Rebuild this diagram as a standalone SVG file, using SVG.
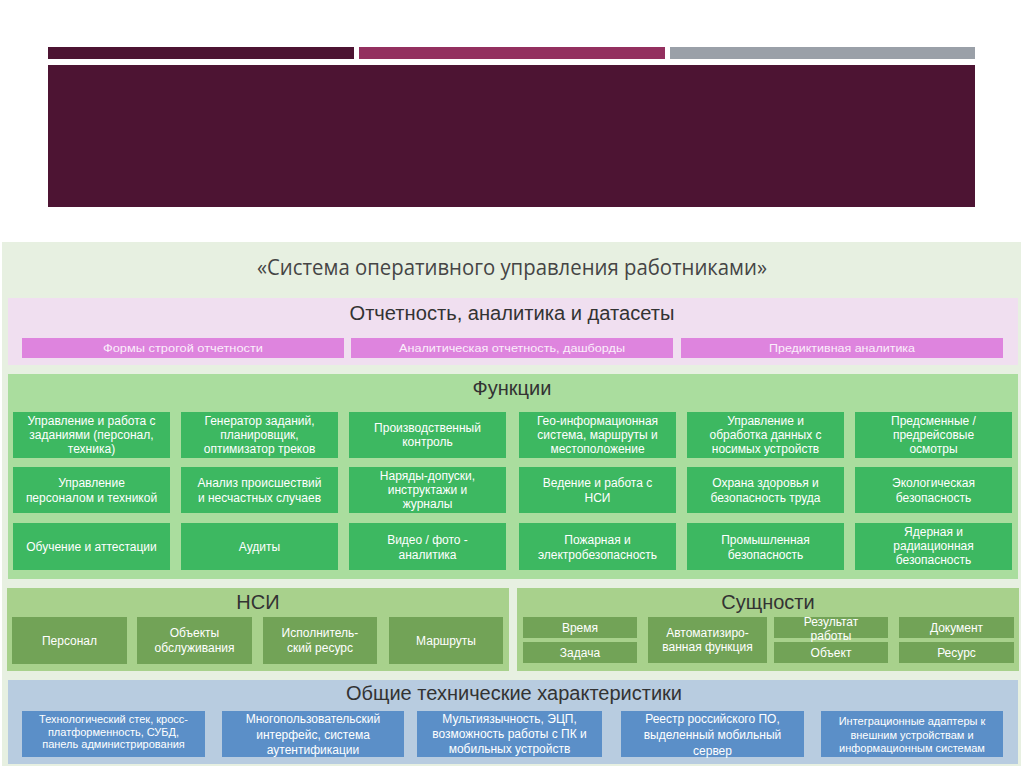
<svg xmlns="http://www.w3.org/2000/svg" width="1024" height="767" viewBox="0 0 1024 767">
<style>
.t{font-family:"Liberation Sans",Arial,sans-serif;text-anchor:middle;dominant-baseline:central}
.ttl{font-family:"Open Sans","Liberation Sans",sans-serif;fill:#454545;font-size:21px}
.bx{fill:#fff;font-size:12px}
.sm{fill:#fbeefb;font-size:11.5px}
.bl{fill:#fff;font-size:11px}
.hd{fill:#333;font-size:20px}
.fn{fill:#3db861}
.pk{fill:#de84de}
.ns{fill:#72a357}
.bu{fill:#5b8fc8}
</style>
<rect x="0" y="0" width="1024" height="767" fill="#fff"/>
<g id="header">
<rect x="48" y="47" width="306" height="12" fill="#4d1432"/>
<rect x="359" y="47" width="306" height="12" fill="#93305f"/>
<rect x="670" y="47" width="305" height="12" fill="#9aa0a8"/>
<rect x="48" y="65" width="927" height="142" fill="#4d1433"/>
</g>
<g id="panel">
<rect x="2" y="242" width="1019" height="524" fill="#e7f0e1"/>
<text class="t ttl" x="512" y="267" textLength="510" lengthAdjust="spacingAndGlyphs">«Система оперативного управления работниками»</text>
</g>
<g id="reporting">
<rect x="8" y="298" width="1010" height="67" fill="#f0dff0"/>
<text class="t hd" x="512" y="313" font-size="19" textLength="325" lengthAdjust="spacingAndGlyphs">Отчетность,  аналитика  и датасеты</text>
<g id="rep1"><rect class="pk" x="22" y="338" width="322" height="20"/><text class="t sm" x="183" y="348" textLength="160" lengthAdjust="spacingAndGlyphs">Формы строгой отчетности</text></g>
<g id="rep2"><rect class="pk" x="351" y="338" width="322" height="20"/><text class="t sm" x="512" y="348" textLength="226" lengthAdjust="spacingAndGlyphs">Аналитическая отчетность, дашборды</text></g>
<g id="rep3"><rect class="pk" x="681" y="338" width="322" height="20"/><text class="t sm" x="842" y="348" textLength="146" lengthAdjust="spacingAndGlyphs">Предиктивная аналитика</text></g>
</g>
<g id="functions">
<rect x="8" y="374" width="1010" height="205" fill="#aadd9e"/>
<text class="t hd" x="512" y="388" font-size="19">Функции</text>
<g id="f11"><rect class="fn" x="13" y="412" width="157" height="46"/><text class="t bx" x="91.5" y="421"><tspan x="91.5">Управление  и работа с</tspan><tspan x="91.5" dy="14">заданиями  (персонал,</tspan><tspan x="91.5" dy="14">техника)</tspan></text></g>
<g id="f12"><rect class="fn" x="181" y="412" width="157" height="46"/><text class="t bx" x="259.5" y="421"><tspan x="259.5">Генератор заданий,</tspan><tspan x="259.5" dy="14">планировщик,</tspan><tspan x="259.5" dy="14">оптимизатор треков</tspan></text></g>
<g id="f13"><rect class="fn" x="349" y="412" width="157" height="46"/><text class="t bx" x="427.5" y="428"><tspan x="427.5">Производственный</tspan><tspan x="427.5" dy="14">контроль</tspan></text></g>
<g id="f14"><rect class="fn" x="519" y="412" width="157" height="46"/><text class="t bx" x="597.5" y="421"><tspan x="597.5">Гео-информационная</tspan><tspan x="597.5" dy="14">система, маршруты и</tspan><tspan x="597.5" dy="14">местоположение</tspan></text></g>
<g id="f15"><rect class="fn" x="687" y="412" width="157" height="46"/><text class="t bx" x="765.5" y="421"><tspan x="765.5">Управление  и</tspan><tspan x="765.5" dy="14">обработка данных с</tspan><tspan x="765.5" dy="14">носимых  устройств</tspan></text></g>
<g id="f16"><rect class="fn" x="855" y="412" width="157" height="46"/><text class="t bx" x="933.5" y="421"><tspan x="933.5">Предсменные /</tspan><tspan x="933.5" dy="14">предрейсовые</tspan><tspan x="933.5" dy="14">осмотры</tspan></text></g>
<g id="f21"><rect class="fn" x="13" y="467" width="157" height="46"/><text class="t bx" x="91.5" y="483"><tspan x="91.5">Управление</tspan><tspan x="91.5" dy="15">персоналом  и техникой</tspan></text></g>
<g id="f22"><rect class="fn" x="181" y="467" width="157" height="46"/><text class="t bx" x="259.5" y="483"><tspan x="259.5">Анализ  происшествий</tspan><tspan x="259.5" dy="15">и несчастных случаев</tspan></text></g>
<g id="f23"><rect class="fn" x="349" y="467" width="157" height="46"/><text class="t bx" x="427.5" y="476"><tspan x="427.5">Наряды-допуски,</tspan><tspan x="427.5" dy="14">инструктажи и</tspan><tspan x="427.5" dy="14">журналы</tspan></text></g>
<g id="f24"><rect class="fn" x="519" y="467" width="157" height="46"/><text class="t bx" x="597.5" y="483"><tspan x="597.5">Ведение и работа с</tspan><tspan x="597.5" dy="15">НСИ</tspan></text></g>
<g id="f25"><rect class="fn" x="687" y="467" width="157" height="46"/><text class="t bx" x="765.5" y="483"><tspan x="765.5">Охрана  здоровья и</tspan><tspan x="765.5" dy="15">безопасность труда</tspan></text></g>
<g id="f26"><rect class="fn" x="855" y="467" width="157" height="46"/><text class="t bx" x="933.5" y="483"><tspan x="933.5">Экологическая</tspan><tspan x="933.5" dy="15">безопасность</tspan></text></g>
<g id="f31"><rect class="fn" x="13" y="523" width="157" height="47"/><text class="t bx" x="91.5" y="547">Обучение и аттестации</text></g>
<g id="f32"><rect class="fn" x="181" y="523" width="157" height="47"/><text class="t bx" x="259.5" y="547">Аудиты</text></g>
<g id="f33"><rect class="fn" x="349" y="523" width="157" height="47"/><text class="t bx" x="427.5" y="540"><tspan x="427.5">Видео / фото -</tspan><tspan x="427.5" dy="15">аналитика</tspan></text></g>
<g id="f34"><rect class="fn" x="519" y="523" width="157" height="47"/><text class="t bx" x="597.5" y="540"><tspan x="597.5">Пожарная и</tspan><tspan x="597.5" dy="15">электробезопасность</tspan></text></g>
<g id="f35"><rect class="fn" x="687" y="523" width="157" height="47"/><text class="t bx" x="765.5" y="540"><tspan x="765.5">Промышленная</tspan><tspan x="765.5" dy="15">безопасность</tspan></text></g>
<g id="f36"><rect class="fn" x="855" y="523" width="157" height="47"/><text class="t bx" x="933.5" y="532"><tspan x="933.5">Ядерная и</tspan><tspan x="933.5" dy="14">радиационная</tspan><tspan x="933.5" dy="14">безопасность</tspan></text></g>
</g>
<g id="nsi">
<rect x="7" y="588" width="502" height="83" fill="#a8d18c"/>
<text class="t hd" x="258" y="602">НСИ</text>
<g id="n1"><rect class="ns" x="12" y="617" width="115" height="47"/><text class="t bx" x="69.5" y="641">Персонал</text></g>
<g id="n2"><rect class="ns" x="137" y="617" width="115" height="47"/><text class="t bx" x="194.5" y="633"><tspan x="194.5">Объекты</tspan><tspan x="194.5" dy="15">обслуживания</tspan></text></g>
<g id="n3"><rect class="ns" x="263" y="617" width="114" height="47"/><text class="t bx" x="320" y="633"><tspan x="320">Исполнитель-</tspan><tspan x="320" dy="15">ский ресурс</tspan></text></g>
<g id="n4"><rect class="ns" x="389" y="617" width="114" height="47"/><text class="t bx" x="446" y="641">Маршруты</text></g>
</g>
<g id="entities">
<rect x="517" y="588" width="502" height="83" fill="#a8d18c"/>
<text class="t hd" x="768" y="602">Сущности</text>
<g id="e1"><rect class="ns" x="523" y="617" width="114" height="21"/><text class="t bx" x="580" y="627.5">Время</text></g>
<g id="e2"><rect class="ns" x="523" y="642" width="114" height="21"/><text class="t bx" x="580" y="653">Задача</text></g>
<g id="e3"><rect class="ns" x="648" y="617" width="119" height="46"/><text class="t bx" x="707.5" y="633"><tspan x="707.5">Автоматизиро-</tspan><tspan x="707.5" dy="14">ванная функция</tspan></text></g>
<g id="e4"><rect class="ns" x="774" y="617" width="114" height="21"/><text class="t bx" x="831" y="622"><tspan x="831">Результат</tspan><tspan x="831" dy="14">работы</tspan></text></g>
<g id="e5"><rect class="ns" x="774" y="642" width="114" height="21"/><text class="t bx" x="831" y="653">Объект</text></g>
<g id="e6"><rect class="ns" x="899" y="617" width="115" height="21"/><text class="t bx" x="956.5" y="627.5">Документ</text></g>
<g id="e7"><rect class="ns" x="899" y="642" width="115" height="21"/><text class="t bx" x="956.5" y="653">Ресурс</text></g>
</g>
<g id="tech">
<rect x="8" y="680" width="1010" height="84" fill="#b8cce0"/>
<text class="t hd" x="514" y="693">Общие технические характеристики</text>
<g id="t1"><rect class="bu" x="22" y="711" width="183" height="46"/><text class="t bl" x="113.5" y="719"><tspan x="113.5">Технологический стек, кросс-</tspan><tspan x="113.5" dy="12.5">платформенность, СУБД,</tspan><tspan x="113.5" dy="12.5">панель администрирования</tspan></text></g>
<g id="t2"><rect class="bu" x="222" y="711" width="182" height="46"/><text class="t bl" x="313" y="719"><tspan x="313" font-size="12">Многопользовательский</tspan><tspan x="313" dy="15.5" font-size="12">интерфейс, система</tspan><tspan x="313" dy="15.5" font-size="12">аутентификации</tspan></text></g>
<g id="t3"><rect class="bu" x="417" y="711" width="185" height="46"/><text class="t bl" x="509.5" y="719"><tspan x="509.5" font-size="12">Мультиязычность, ЭЦП,</tspan><tspan x="509.5" dy="15" font-size="12">возможность работы с ПК и</tspan><tspan x="509.5" dy="15" font-size="12">мобильных  устройств</tspan></text></g>
<g id="t4"><rect class="bu" x="621" y="711" width="183" height="46"/><text class="t bl" x="712.5" y="719"><tspan x="712.5" font-size="12">Реестр российского ПО,</tspan><tspan x="712.5" dy="16" font-size="12">выделенный  мобильный</tspan><tspan x="712.5" dy="16" font-size="12">сервер</tspan></text></g>
<g id="t5"><rect class="bu" x="821" y="711" width="182" height="46"/><text class="t bl" x="912" y="721"><tspan x="912">Интеграционные адаптеры к</tspan><tspan x="912" dy="13.5">внешним  устройствам и</tspan><tspan x="912" dy="13.5">информационным системам</tspan></text></g>
</g>
<g id="connectors"/>
</svg>
